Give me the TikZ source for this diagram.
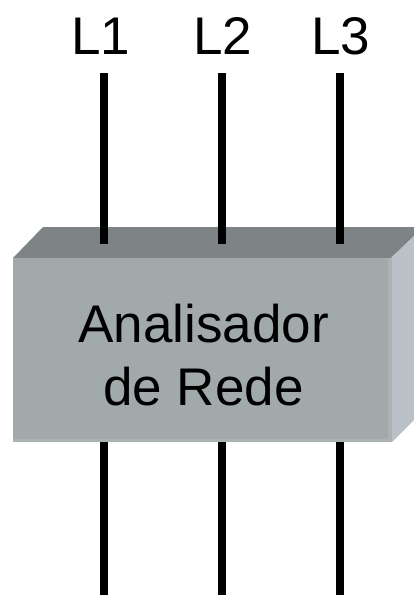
\documentclass[tikz,border=0pt]{standalone}
\usepackage{fontspec}
\setmainfont{Liberation Sans}
\definecolor{frontgray}{HTML}{A1A9AB}
\definecolor{topgray}{HTML}{7E8485}
\definecolor{sidegray}{HTML}{BBC2C7}
\definecolor{edgegray}{HTML}{ABB2B4}
\tikzset{
    wire/.style={line width=8pt,black},
    bigtext/.style={font=\fontsize{53}{60}\selectfont,anchor=base,inner sep=0pt}
}
\begin{document}
\begin{tikzpicture}[x=1pt,y=-1pt,line join=round]
            \useasboundingbox (0,0) rectangle (414,595);
            % caixa
            \fill[topgray] (13,258)--(43,227)--(414,227)--(414,236)--(391,258)--cycle;
            \fill[sidegray] (391,258)--(414,236)--(414,420)--(392,442)--cycle;
            \fill[frontgray] (13,258) rectangle (391,442);
            \fill[edgegray] (388,258) rectangle (392,442);
            \fill[edgegray] (13,439) rectangle (392,442);
            % textos
            \node[bigtext] (L1) at (101,54) {L1};
            \node[bigtext] (L2) at (222.5,54) {L2};
            \node[bigtext] (L3) at (341,54) {L3};
            \node[bigtext] (analisador) at (203.5,342) {Analisador};
            \node[bigtext] (rede) at (203.5,405) {de Rede};
            % fios
            \coordinate (a1) at (104,73);
            \coordinate (a2) at (222,73);
            \coordinate (a3) at (340,73);
            \coordinate (b1) at (104,244);
            \coordinate (b2) at (222,244);
            \coordinate (b3) at (340,244);
            \coordinate (c1) at (104,442);
            \coordinate (c2) at (222,442);
            \coordinate (c3) at (340,442);
            \coordinate (d1) at (104,595);
            \coordinate (d2) at (222,595);
            \coordinate (d3) at (340,595);
            \foreach \i in {1,2,3}{
                \draw[wire] (a\i)--(b\i);
                \draw[wire] (c\i)--(d\i);
            }
\end{tikzpicture}
\end{document}
